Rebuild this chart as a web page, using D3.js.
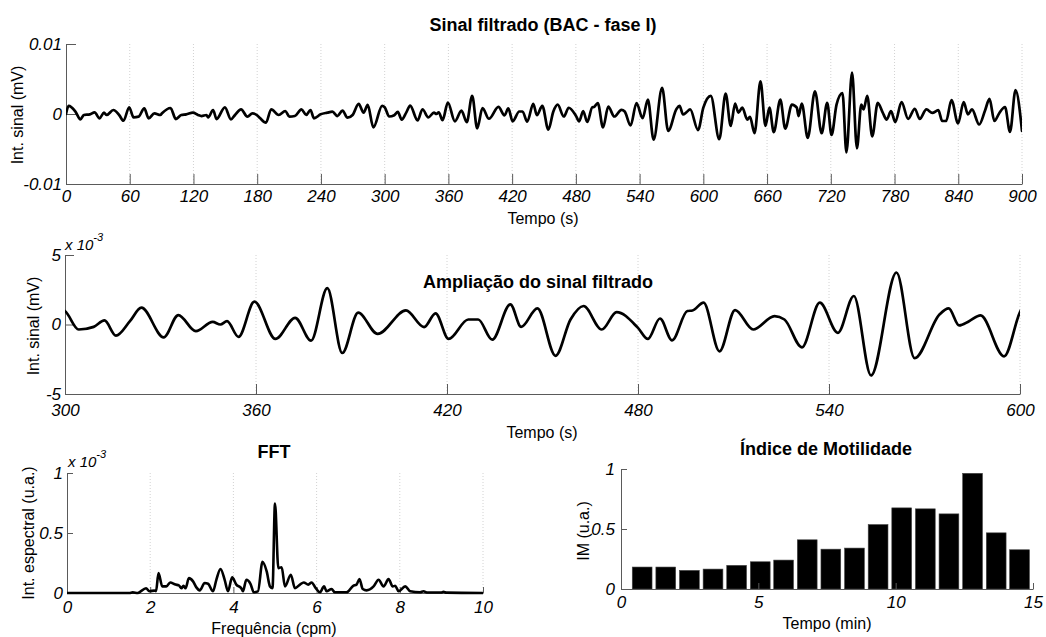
<!DOCTYPE html>
<html><head><meta charset="utf-8">
<script src="https://cdn.jsdelivr.net/npm/d3@7"></script>
<style>
body{margin:0;background:#fff}
svg{display:block}
</style>
</head><body>
<svg id="c" width="1046" height="637"></svg>
<script>
// ---- DATA ----
// Filtered signal: time (s) and amplitude (x10^-3 mV)
const sigTime = [0,2.5,8.9,13.6,16.8,22.5,26.9,31.6,35.7,38.3,44.6,50,54.1,59.5,63.6,68.3,73.7,77.8,83.2,88.9,90.4,98.4,103.4,108.5,113.2,119.5,124.3,127.5,132.2,133.8,138.5,141.7,149.6,155.3,159.1,164.8,170.8,175.5,179.6,182.8,188.2,193.2,200.2,206.5,210.3,215.4,221.7,226.1,230.2,233.4,239.7,246,250.8,255.5,260.3,265,269.8,275.5,280.2,284,289.4,297.6,
300,304.3,309,312.4,316,320.4,324,331,335.6,341.1,346.4,348.8,350.9,354.5,359.5,366.1,372.3,377.3,382.4,387.1,392.1,398.2,407.1,412.8,416.4,420.5,426.7,429.8,434.2,439.9,443.3,448.4,454.1,458.8,462.9,468.6,473.3,480,483.1,486.9,490.7,495.5,497.1,500.6,505.6,510.5,516.2,522.9,526,531.5,537.1,542.8,547.8,553.2,561.2,566.9,574.7,577.6,580.9,584,587.6,595,600,
607,615,621,625.8,629.9,633,636.7,641.4,643.9,648.2,653.8,658.5,662.2,666.3,672.5,677.1,683.4,688,689.6,692.7,698.3,705.1,711.4,716.6,720.7,725.4,731,734.7,740,744.6,748.7,750.9,754.3,759,764.2,768.9,772.6,776.7,780.7,786.6,792.8,799.1,803.7,810,815.6,821.2,824.9,828.6,833.6,839.8,845.1,849.1,852.9,859.7,865.3,869.4,874,878.7,884,888.7,893.9,900];
const sigValue = [0,1.15,0.33,-0.77,-0.14,-0.05,0.24,-0.62,0.19,-0.14,0.57,-0.14,-0.96,0.96,-0.48,-0.38,0.81,-0.62,0.1,-0.14,0.1,0.86,-0.72,-0.14,-0.05,0.19,-0.14,-0.29,-0.14,-0.48,0.57,-0.72,0.96,-0.77,-0.14,0.67,-0.38,0.1,-0.14,-0.62,-1.24,0.67,-0.14,0.43,-0.38,-0.29,0.67,-0.14,0.57,-0.62,-0.05,0.19,0.33,-0.29,0.48,-0.53,-0.14,1.44,0.19,1.29,-1.91,1.15,
0.97,-0.36,-0.17,0.29,-0.8,0.24,1.21,-0.92,0.68,-0.48,0.19,0,0.24,-0.89,1.64,-1.04,0.48,-1.16,2.61,-2.05,0.85,-0.68,1.01,-0.19,0.8,-1.04,0.36,0.36,-1.09,1.45,-0.17,1.16,-2.25,0.36,1.33,-0.36,0.89,-0.24,-1.04,0.43,-1.14,0.97,1.01,1.57,-1.93,1.04,-0.36,0.6,0.36,-1.64,1.57,-0.6,2.05,-3.67,3.74,-2.42,0.72,1.16,-0.07,0.24,0.65,-2.29,0.9,
2.6,-3.6,2.9,-1.7,1.5,0.2,0.9,-0.8,-0.4,-2.75,4.65,-1.7,0.9,-2.6,2.05,-2.1,1.35,0.9,-0.3,1.5,-3.4,3.25,-2.75,1.6,-3.0,1.35,3.0,-5.5,5.9,-4.9,1.35,0.65,2.6,-3.2,1.6,0.2,-0.8,0.4,-1.15,1.7,-0.7,0.75,-0.7,0.65,0.15,0.55,-1.0,-1.0,2.0,-1.35,1.7,-0.05,0.65,-1.5,0.55,2.15,-1.0,0.15,1.0,-2.55,3.4,-2.4];

// FFT: frequency (cpm) and spectral intensity (x10^-3 u.a.)
const fftFreq = [0,1.5,1.58,1.7,1.9,1.98,2.1,2.14,2.2,2.29,2.39,2.48,2.61,2.69,2.75,2.8,2.85,2.93,3.03,3.11,3.19,3.31,3.39,3.51,3.59,3.69,3.79,3.87,3.97,4.07,4.19,4.23,4.31,4.41,4.49,4.59,4.7,4.8,4.88,4.94,5.0,5.08,5.16,5.24,5.38,5.48,5.6,5.69,5.8,5.88,5.98,6.08,6.18,6.24,6.36,6.44,6.72,6.88,6.96,7.03,7.11,7.2,7.37,7.49,7.61,7.73,7.83,7.89,7.97,8.13,8.25,8.49,8.57,8.65,9.0,9.05,9.12,10];
const fftAmp = [0,0,0.005,0,0.04,0.015,0.02,0.015,0.166,0.055,0.055,0.088,0.07,0.064,0.04,0.06,0.04,0.124,0.097,0.047,0.022,0.083,0.077,0.014,0.11,0.2,0.11,0.014,0.13,0.07,0.04,0.014,0.11,0.077,0.006,0.014,0.26,0.18,0.055,0.04,0.746,0.207,0.215,0.055,0.152,0.04,0.07,0.088,0.07,0.088,0.04,0.006,0.055,0.014,0.033,0.006,0.006,0.06,0.07,0.116,0.033,0.022,0.055,0.11,0.055,0.116,0.055,0.06,0.014,0.055,0.014,0.006,0.014,0.004,0.004,0.01,0.003,0];

// Motility index: bar centre time (min) and IM (u.a.)
const imTime = [0.77,1.63,2.49,3.35,4.21,5.07,5.92,6.78,7.64,8.50,9.36,10.22,11.08,11.94,12.80,13.66,14.51];
const imValue = [0.183,0.183,0.155,0.166,0.197,0.227,0.241,0.41,0.332,0.341,0.537,0.676,0.668,0.626,0.964,0.468,0.327];

// Tick values / labels
const topXTicks = [0,60,120,180,240,300,360,420,480,540,600,660,720,780,840,900];
const topYTicks = [-10,0,10];
const topYLabels = ["-0.01","0","0.01"];
const midXTicks = [300,360,420,480,540,600];
const midYTicks = [-5,0,5];
const fftXTicks = [0,2,4,6,8,10];
const fftYTicks = [0,0.5,1];
const imXTicks = [0,5,10,15];
const imYTicks = [0,0.5,1];

// ---- DRAWING ----
const FONT = '"Liberation Sans", Arial, Helvetica, sans-serif';
const svg = d3.select('#c').attr('font-family', FONT);
const AX = '#5a5a5a';
const TICKFS = 17;
const sig = sigTime.map((t,i)=>({t, v: sigValue[i]}));
const fft = fftFreq.map((f,i)=>({t: f, v: fftAmp[i]}));

let clipId = 0;
function panel(o){
  const x = d3.scaleLinear().domain(o.xDom).range([o.x0,o.x1]);
  const y = d3.scaleLinear().domain(o.yDom).range([o.y1,o.y0]);
  const g = svg.append('g');
  if (o.grid){
    g.append('g').selectAll('line').data(o.grid).join('line')
      .attr('x1',d=>x(d)).attr('x2',d=>x(d)).attr('y1',o.y0).attr('y2',o.y1)
      .attr('stroke','#d2d2d2').attr('stroke-width',1).attr('stroke-dasharray','1,2');
  }
  const ax = d3.axisBottom(x).tickValues(o.xTicks).tickFormat(o.xFmt || (d=>d))
    .tickSizeInner(-o.xTickLen).tickSizeOuter(0).tickPadding(o.xPad);
  const gx = g.append('g').attr('transform',`translate(0,${o.y1})`).call(ax)
    .attr('font-family',FONT).attr('font-size',TICKFS);
  const ay = d3.axisLeft(y).tickValues(o.yTicks).tickFormat(o.yFmt || (d=>d))
    .tickSizeInner(-o.yTickLen).tickSizeOuter(0).tickPadding(o.yPad);
  const gy = g.append('g').attr('transform',`translate(${o.x0},0)`).call(ay)
    .attr('font-family',FONT).attr('font-size',TICKFS);
  [gx,gy].forEach(a=>{
    a.select('.domain').attr('stroke',AX);
    a.selectAll('.tick line').attr('stroke',AX);
    a.selectAll('.tick text').attr('font-style','italic').attr('fill','#000');
  });
  return {g,x,y};
}

function drawLine(p, data, o, width){
  const id = 'clip'+(clipId++);
  svg.append('defs').append('clipPath').attr('id',id).append('rect')
    .attr('x',o.x0).attr('y',o.y0-20).attr('width',o.x1-o.x0).attr('height',o.y1-o.y0+40);
  const line = d3.line().x(d=>p.x(d.t)).y(d=>p.y(d.v)).curve(d3.curveMonotoneX);
  p.g.append('path').datum(data).attr('d',line).attr('clip-path',`url(#${id})`)
    .attr('fill','none').attr('stroke','#000').attr('stroke-width',width)
    .attr('stroke-linejoin','round').attr('stroke-linecap','round');
}

function label(txt, x, y, opts={}){
  const t = svg.append('text').attr('x',x).attr('y',y).text(txt)
    .attr('font-size',opts.size||16).attr('text-anchor',opts.anchor||'middle')
    .attr('font-weight',opts.bold?'bold':'normal').attr('fill','#000');
  if (opts.rot) t.attr('transform',`rotate(-90,${x},${y})`);
  return t;
}
function expLabel(x, y){
  const t = svg.append('text').attr('x',x).attr('y',y).attr('font-size',15)
    .attr('font-style','italic').attr('fill','#000').text('x 10');
  t.append('tspan').attr('dy',-9).attr('font-size',11).text('-3');
}

// Top panel
const oTop = {xDom:[0,900], yDom:[-10,10], x0:66, x1:1022, y0:44, y1:184,
  xTicks:topXTicks, yTicks:topYTicks, yFmt:(d,i)=>topYLabels[i],
  grid:topXTicks.slice(1), xTickLen:10, yTickLen:10, xPad:6, yPad:4};
const pTop = panel(oTop);
drawLine(pTop, sig, oTop, 2.7);
label('Sinal filtrado (BAC - fase I)', 543, 31, {size:18, bold:true});
label('Tempo (s)', 543, 224);
label('Int. sinal (mV)', 23, 115, {rot:true});

// Middle panel
const oMid = {xDom:[300,600], yDom:[-5,5], x0:65, x1:1020, y0:255, y1:394,
  xTicks:midXTicks, yTicks:midYTicks, grid:midXTicks.slice(1),
  xTickLen:10, yTickLen:9, xPad:10, yPad:4};
const pMid = panel(oMid);
drawLine(pMid, sig.filter(d=>d.t>=290 && d.t<=610), oMid, 2.7);
label('Ampliação do sinal filtrado', 538, 288, {size:18, bold:true});
label('Tempo (s)', 542, 438);
label('Int. sinal (mV)', 39, 326, {rot:true});
expLabel(65, 250);

// FFT panel
const oFft = {xDom:[0,10], yDom:[0,1], x0:67, x1:483, y0:473, y1:593,
  xTicks:fftXTicks, yTicks:fftYTicks, grid:fftXTicks.slice(1),
  xTickLen:6, yTickLen:6, xPad:8, yPad:4};
const pFft = panel(oFft);
drawLine(pFft, fft, oFft, 2.6);
label('FFT', 274, 458, {size:18, bold:true});
label('Frequência (cpm)', 274, 634);
label('Int. espectral (u.a.)', 34, 533, {rot:true});
expLabel(68, 467);

// Motility index panel
const oIm = {xDom:[0,15], yDom:[0,1], x0:621, x1:1033, y0:469, y1:589,
  xTicks:imXTicks, yTicks:imYTicks, xTickLen:6, yTickLen:6, xPad:7, yPad:6};
const pIm = panel(oIm);
const bw = pIm.x(0.72) - pIm.x(0);
pIm.g.append('g').selectAll('rect').data(imTime.map((t,i)=>({t, v: imValue[i]}))).join('rect')
  .attr('x',d=>pIm.x(d.t)-bw/2).attr('width',bw)
  .attr('y',d=>pIm.y(d.v)).attr('height',d=>pIm.y(0)-pIm.y(d.v))
  .attr('fill','#000').attr('stroke','#444').attr('stroke-width',0.6);
pIm.g.select('g').raise();
label('Índice de Motilidade', 826, 455, {size:18, bold:true});
label('Tempo (min)', 827, 629);
label('IM (u.a.)', 589, 531, {rot:true});
</script>
</body></html>
